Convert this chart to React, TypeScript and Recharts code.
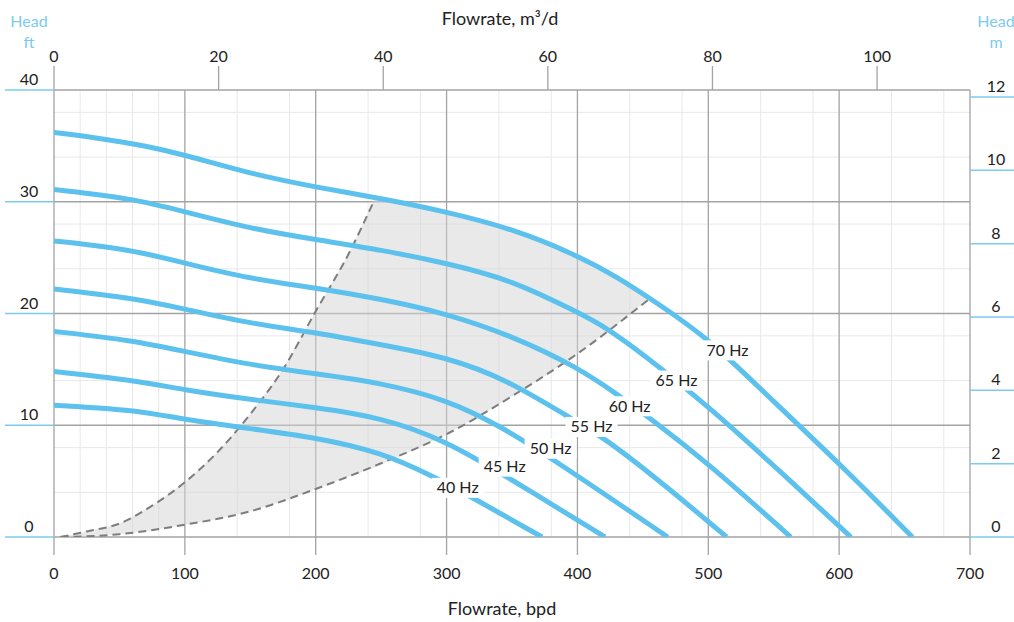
import { Area, CartesianGrid, ComposedChart, Line, Scatter, XAxis, YAxis } from 'recharts';

const FT_PER_M = 3.28084;
const BPD_PER_M3D = 6.28981;

const BLUE = '#5dc1ee';
const AXIS_BLUE = '#7ccbef';
const GRID = '#a3a3a3';
const MINOR = '#e8e8e8';
const TEXT = '#222';
const FONT = 'Lato, "Open Sans", sans-serif';

// axis ticks
const bpdTicks = [0, 100, 200, 300, 400, 500, 600, 700];
const ftTicks = [0, 10, 20, 30, 40];
const mTicks = [0, 2, 4, 6, 8, 10, 12];
const m3dTicks = [0, 20, 40, 60, 80, 100];
const minorBpd = [20, 40, 60, 80, 120, 140, 160, 180, 220, 240, 260, 280, 320, 340, 360, 380, 420, 440, 460, 480, 520, 540, 560, 580, 620, 640, 660, 680];
const minorFt = [2, 4, 6, 8, 12, 14, 16, 18, 22, 24, 26, 28, 32, 34, 36, 38];

// pump curves (flow bpd / head ft)
const q40 = [0, 60, 100, 150, 200, 250, 292, 320, 373];
const h40 = [11.8, 11.4, 10.5, 9.7, 8.9, 7.6, 5.3, 3.5, 0];
const q45 = [0, 60, 100, 150, 200, 250, 300, 346, 421];
const h45 = [14.8, 14.05, 13.15, 12.3, 11.6, 10.7, 8.6, 5.4, 0];
const q50 = [0, 60, 100, 150, 200, 250, 300, 340, 381, 469];
const h50 = [18.4, 17.6, 16.6, 15.4, 14.6, 13.8, 12.3, 10.0, 7.0, 0];
const q55 = [0, 60, 100, 150, 200, 250, 300, 346, 395, 419, 460, 514];
const h55 = [22.2, 21.4, 20.4, 19.1, 18.3, 17.2, 16.1, 14.1, 10.6, 9.0, 5.3, 0];
const q60 = [0, 60, 100, 150, 200, 250, 300, 350, 400, 430, 456, 500, 563];
const h60 = [26.5, 25.7, 24.5, 23.1, 22.3, 21.3, 20.0, 18.0, 15.2, 12.8, 10.6, 6.6, 0];
const q65 = [0, 60, 100, 150, 200, 250, 300, 350, 400, 417, 450, 500, 550, 609];
const h65 = [31.1, 30.3, 29.1, 27.6, 26.6, 25.7, 24.5, 23.0, 20.1, 19.1, 16.4, 11.7, 6.4, 0];
const q70 = [0, 40, 70, 100, 150, 200, 250, 300, 350, 400, 430, 460, 500, 550, 600, 656];
const h70 = [36.2, 35.6, 35.0, 34.2, 32.5, 31.3, 30.3, 29.1, 27.6, 25.2, 23.3, 21.0, 17.8, 12.1, 6.6, 0];

// operating range boundaries
const leftDashQ = [5, 25, 50, 75, 100, 125, 150, 175, 200, 225, 245];
const leftDashH = [0, 0.5, 1.2, 2.8, 4.9, 7.6, 11.0, 15.0, 20.2, 25.3, 30.2];
const rightDashQ = [5, 50, 100, 150, 200, 250, 300, 350, 400, 456];
const rightDashH = [0, 0.25, 1.1, 2.3, 4.3, 6.6, 9.2, 12.6, 16.4, 21.4];

const shadeQ = [5, 25, 50, 75, 100, 125, 150, 175, 200, 225, 245, 275, 300, 325, 350, 375, 400, 430, 456];
const shadeLow = [0, 0.05, 0.25, 0.6, 1.1, 1.6, 2.3, 3.2, 4.3, 5.4, 6.2, 7.8, 9.2, 10.8, 12.6, 14.4, 16.4, 19.0, 21.4];
const shadeHigh = [0, 0.5, 1.2, 2.8, 4.9, 7.6, 11.0, 15.0, 20.2, 25.3, 30.2, 29.7, 29.1, 28.4, 27.6, 26.5, 25.2, 23.3, 21.4];

// curve labels
const hzNames = ['40 Hz', '45 Hz', '50 Hz', '55 Hz', '60 Hz', '65 Hz', '70 Hz'];
const labelQ = [308.5, 344.4, 379.5, 410.8, 439.9, 475.7, 514.7];
const labelH = [4.4, 6.3, 7.9, 9.85, 11.7, 14.0, 16.7];

const pts = (q: number[], h: number[]) => q.map((v, i) => ({ q: v, h: h[i] }));

const curves = [
    pts(q40, h40), pts(q45, h45), pts(q50, h50), pts(q55, h55),
    pts(q60, h60), pts(q65, h65), pts(q70, h70),
];
const shadeData = shadeQ.map((v, i) => ({ q: v, range: [shadeLow[i], shadeHigh[i]] }));
const labelData = labelQ.map((v, i) => ({ q: v, h: labelH[i], name: hzNames[i] }));
// anchors the top m³/d axis so it gets a domain and draws its ticks
const m3dAnchor = m3dTicks.map((v) => ({ m3: v, h: 0 }));

const FtTick = (p: any) => (
    <g>
        <line x1={p.x - 49} x2={p.x} y1={p.y} y2={p.y} stroke={AXIS_BLUE} strokeWidth={1.5} />
        <text x={p.x - 25} y={p.y - 5} textAnchor="middle" fontSize={16} fill={TEXT} fontFamily={FONT}>
            {p.payload.value}
        </text>
    </g>
);

const MTick = (p: any) => (
    <g>
        <line x1={p.x} x2={p.x + 44} y1={p.y} y2={p.y} stroke={AXIS_BLUE} strokeWidth={1.5} />
        <text x={p.x + 26} y={p.y - 5} textAnchor="middle" fontSize={16} fill={TEXT} fontFamily={FONT}>
            {p.payload.value}
        </text>
    </g>
);

const HzLabel = (p: any) => (
    <g>
        <rect x={p.cx - 26} y={p.cy - 10} width={52} height={20} fill="#fff" />
        <text x={p.cx} y={p.cy + 5.5} textAnchor="middle" fontSize={16} fill={TEXT} fontFamily={FONT}>
            {p.payload.name}
        </text>
    </g>
);

const headStyle = (left: number, top: number) => ({
    position: 'absolute' as const, left, top, width: 50, marginLeft: -25,
    textAlign: 'center' as const, color: AXIS_BLUE, fontSize: 16, lineHeight: '21px', fontFamily: FONT,
});

const App = () => {
    return (
        <div style={{ position: 'absolute', left: 0, top: 0, width: 1014, height: 622, background: '#fff', fontFamily: FONT }}>
            <ComposedChart width={1014} height={622} margin={{ top: 0, right: 0, bottom: 0, left: 0 }}>
                <CartesianGrid stroke={MINOR} verticalValues={minorBpd} horizontalValues={minorFt} />
                <CartesianGrid stroke={GRID} strokeWidth={1.3} />
                <XAxis
                    dataKey="q" type="number" domain={[0, 700]} ticks={bpdTicks} allowDataOverflow
                    height={85} axisLine={false} tickSize={18} tickMargin={13}
                    tickLine={{ stroke: GRID, strokeWidth: 1.3 }}
                    tick={{ fill: TEXT, fontSize: 16, fontFamily: FONT }}
                    label={{ value: 'Flowrate, bpd', position: 'insideBottom', offset: 7, dx: -10, fontSize: 18, fill: TEXT, fontFamily: FONT }}
                />
                <XAxis
                    xAxisId="m3d" dataKey="m3" orientation="top" type="number" domain={[0, 700 / BPD_PER_M3D]} ticks={m3dTicks}
                    allowDataOverflow height={90} axisLine={false} tickSize={24} tickMargin={4}
                    tickLine={{ stroke: GRID, strokeWidth: 1.3 }}
                    tick={{ fill: TEXT, fontSize: 16, fontFamily: FONT }}
                    label={{ value: 'Flowrate, m³/d', position: 'insideTop', offset: 12, dx: -12, fontSize: 18, fill: TEXT, fontFamily: FONT }}
                />
                <YAxis
                    type="number" domain={[0, 40]} ticks={ftTicks} allowDataOverflow width={54}
                    axisLine={false} tickLine={false} tickSize={0} tickMargin={0} tick={FtTick}
                />
                <YAxis
                    yAxisId="m" orientation="right" type="number" domain={[0, 40 / FT_PER_M]} ticks={mTicks}
                    allowDataOverflow width={44} axisLine={false} tickLine={false} tickSize={0} tickMargin={0} tick={MTick}
                />
                <Area data={shadeData} dataKey="range" type="linear" stroke="none" fill="#d4d4d4" fillOpacity={0.5} isAnimationActive={false} />
                <Line xAxisId="m3d" data={m3dAnchor} dataKey="h" stroke="none" strokeWidth={0} dot={false} activeDot={false} legendType="none" isAnimationActive={false} />
                <Line data={pts(leftDashQ, leftDashH)} dataKey="h" type="monotone" stroke="#7d7d7d" strokeWidth={2} strokeDasharray="8 5" dot={false} isAnimationActive={false} />
                <Line data={pts(rightDashQ, rightDashH)} dataKey="h" type="monotone" stroke="#7d7d7d" strokeWidth={2} strokeDasharray="8 5" dot={false} isAnimationActive={false} />
                {curves.map((c, i) => (
                    <Line key={hzNames[i]} data={c} dataKey="h" type="basis" stroke={BLUE} strokeWidth={5} dot={false} isAnimationActive={false} />
                ))}
                <Scatter data={labelData} dataKey="h" shape={HzLabel} isAnimationActive={false} />
            </ComposedChart>
            <div style={headStyle(29, 10)}>Head<br />ft</div>
            <div style={headStyle(996, 10)}>Head<br />m</div>
        </div>
    );
};

export default App;
